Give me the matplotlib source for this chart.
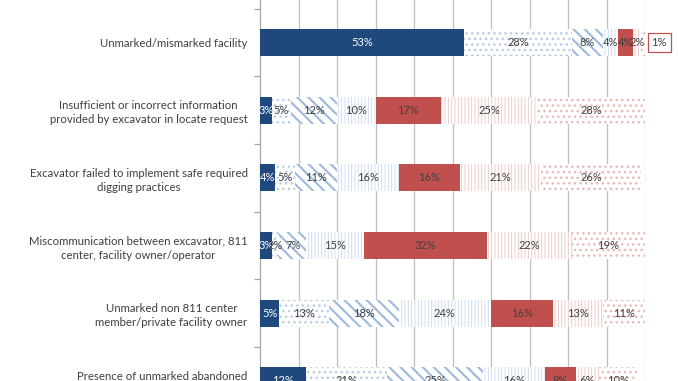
import matplotlib
matplotlib.use("Agg")
import matplotlib.pyplot as plt
import numpy as np

categories = [
    "Unmarked/mismarked facility",
    "Insufficient or incorrect information\nprovided by excavator in locate request",
    "Excavator failed to implement safe required\ndigging practices",
    "Miscommunication between excavator, 811\ncenter, facility owner/operator",
    "Unmarked non 811 center\nmember/private facility owner",
    "Presence of unmarked abandoned\nfacilities",
]

s1 = [53, 3, 4, 3, 5, 12]
s2 = [28, 5, 5, 2, 13, 21]
s3 = [8, 12, 11, 7, 18, 25]
s4 = [4, 10, 16, 15, 24, 16]
s5 = [4, 17, 16, 32, 16, 8]
s6 = [2, 25, 21, 22, 13, 6]
s7 = [1, 28, 26, 19, 11, 10]
series = [s1, s2, s3, s4, s5, s6, s7]

plt.rcParams['font.family'] = ['Lato', 'DejaVu Sans']

styles = [
    dict(face='#1F497D', edge='#1F497D', hatch=None, hlw=1.0, tc='white'),
    dict(face='white', edge='#B8CCE4', hatch='...', hlw=1.0, tc='#404040'),
    dict(face='white', edge='#9DB9DC', hatch='\\\\\\', hlw=1.5, tc='#404040'),
    dict(face='white', edge='#C6D9F1', hatch='|||||', hlw=0.6, tc='#404040'),
    dict(face='#C0504D', edge='#C0504D', hatch=None, hlw=1.0, tc='#404040'),
    dict(face='white', edge='#EBC4C3', hatch='|||||', hlw=0.6, tc='#404040'),
    dict(face='white', edge='#E6B9B8', hatch='...', hlw=1.0, tc='#404040'),
]

W, H = 678, 381
fig = plt.figure(figsize=(W / 100, H / 100), dpi=100)
x0 = 260 / W
ax = fig.add_axes([x0, 0, 385 / W, 1])

y = np.arange(len(categories))
left = np.zeros(len(categories))
for vals, st in zip(series, styles):
    vals = np.array(vals, dtype=float)
    with plt.rc_context({'hatch.linewidth': st['hlw']}):
        bars = ax.barh(y, vals, left=left, height=0.4, color=st['face'],
                       edgecolor=st['edge'], hatch=st['hatch'], linewidth=0, zorder=3)
        for b in bars:
            if hasattr(b, 'set_hatch_linewidth'):
                b.set_hatch_linewidth(st['hlw'])
    for i, (l, v) in enumerate(zip(left, vals)):
        if v >= 2 or (i != 0):
            ax.text(l + v / 2, i, f"{int(v)}%", ha='center', va='center',
                    fontsize=8, color=st['tc'], zorder=5)
        else:
            ax.text(103.7, i, f"{int(v)}%", ha='center', va='center', fontsize=8,
                    color='#404040', zorder=5, clip_on=False,
                    bbox=dict(boxstyle='square,pad=0.35', fc='white', ec='#C0504D', lw=0.9))
    left += vals

ax.set_xticks(np.arange(10, 101, 10))
ax.tick_params(axis='x', length=0, labelbottom=False)
ax.grid(axis='x', color='#BFBFBF', linewidth=0.9, zorder=0)

ax.set_yticks(y)
ax.set_yticklabels(categories, fontsize=8.2, color='#404040', linespacing=1.35,
                   multialignment='center')
ax.tick_params(axis='y', which='major', length=0, pad=9)
ax.set_yticks(np.arange(-0.5, len(categories) + 0.5, 1), minor=True)
ax.tick_params(axis='y', which='minor', length=4, color='#A6A6A6', width=0.9)

row_px = 67.7
top = -42.5 / row_px
bottom = (H - 42.5) / row_px
ax.set_xlim(0, 100)
ax.set_ylim(bottom, top)

for s in ['top', 'right', 'bottom']:
    ax.spines[s].set_visible(False)
ax.spines['left'].set_color('#A6A6A6')
ax.spines['left'].set_linewidth(0.9)

fig.savefig('out.png', dpi=100)
